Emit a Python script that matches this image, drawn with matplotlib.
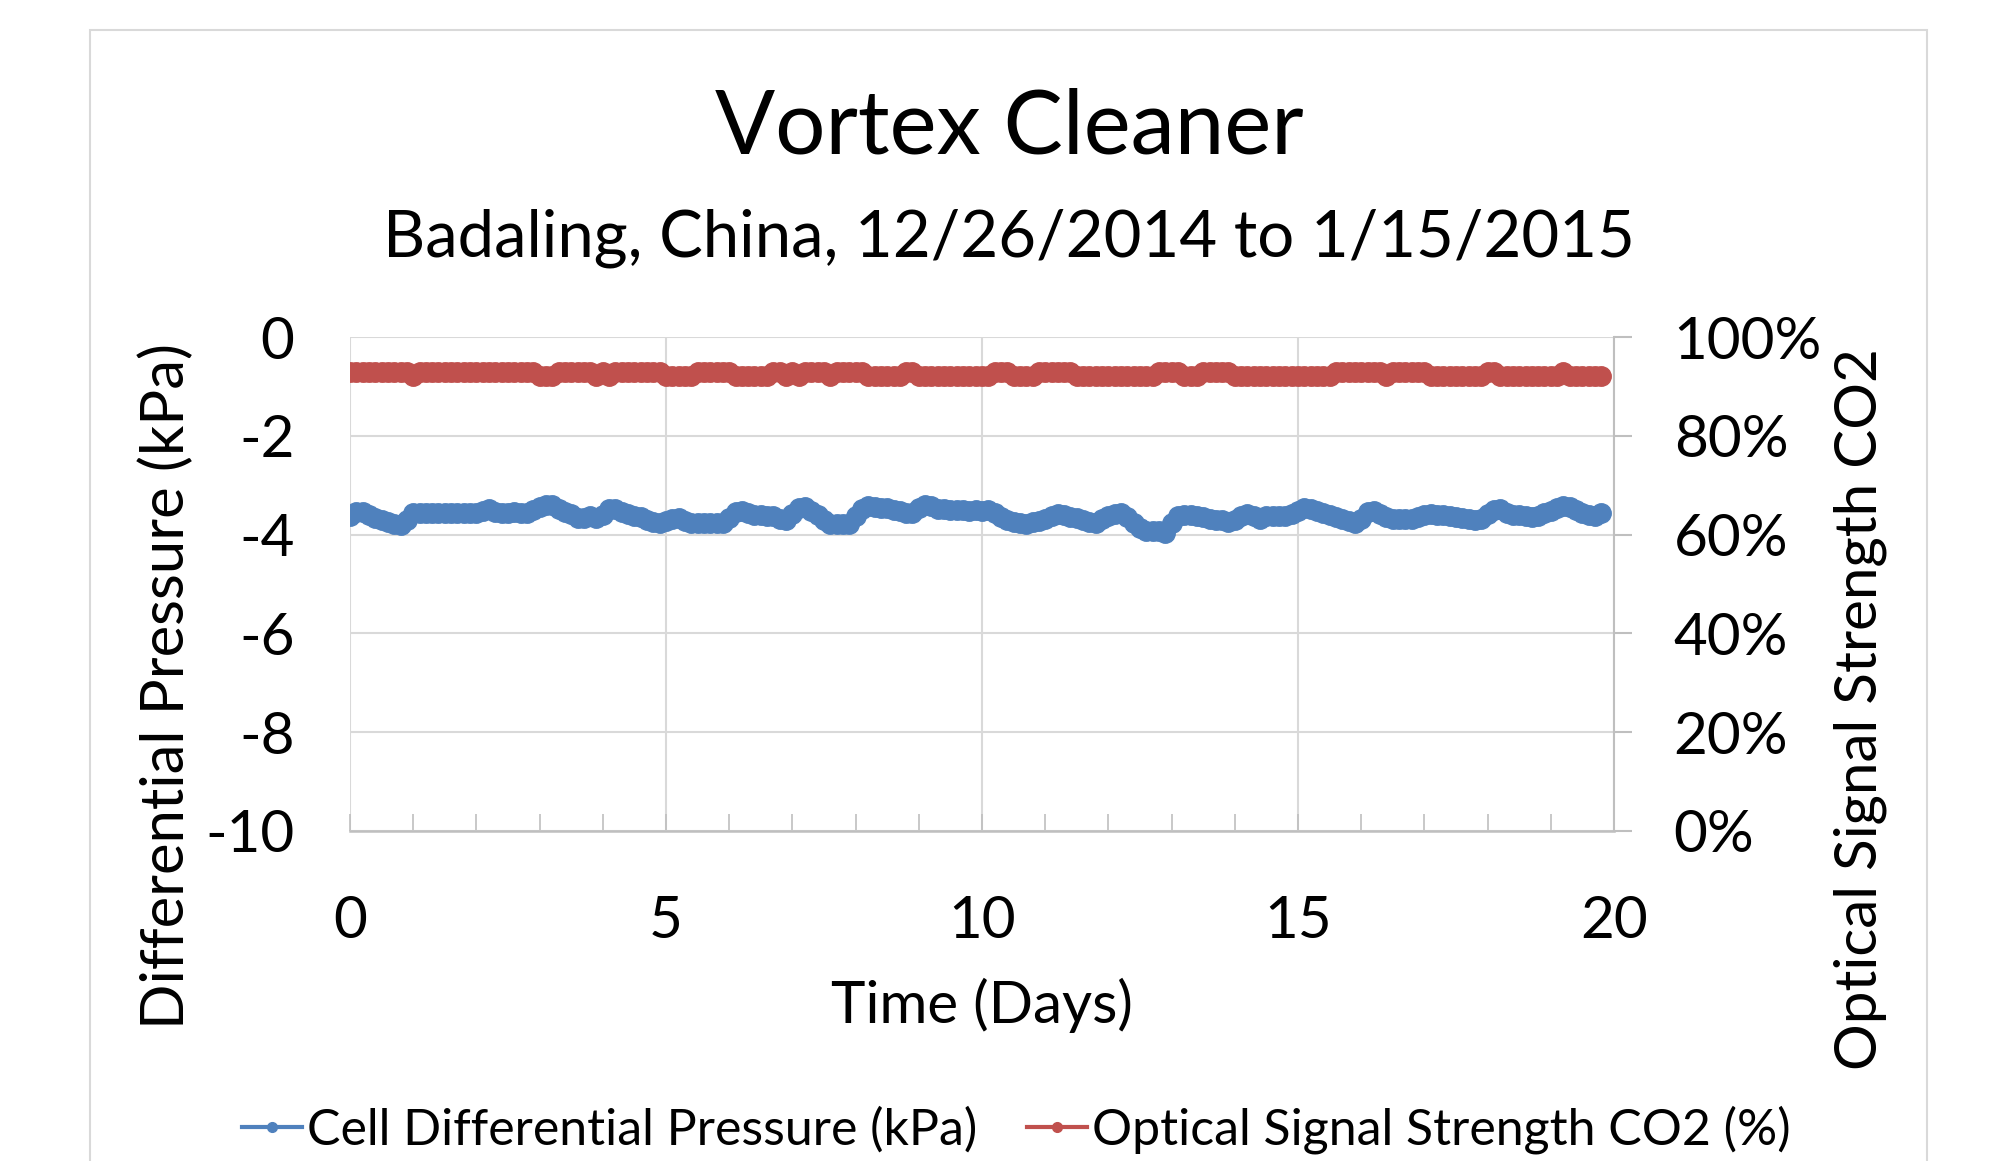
import numpy as np
import matplotlib
matplotlib.use("Agg")
import matplotlib.pyplot as plt
from matplotlib.lines import Line2D
from matplotlib.patches import Rectangle
from matplotlib.ticker import MultipleLocator, FuncFormatter

plt.rcParams["font.family"] = ["Lato", "DejaVu Sans"]
plt.rcParams["axes.unicode_minus"] = False

BLUE = "#4F81BD"
RED = "#C0504D"
GRID = "#D9D9D9"
AXIS = "#BFBFBF"

title = "Vortex Cleaner"
subtitle = "Badaling, China, 12/26/2014 to 1/15/2015"

# samples every 0.1 day
days = np.round(np.arange(0, 19.81, 0.1), 1)

pressure = [
    -3.62, -3.55, -3.54, -3.61, -3.66, -3.71, -3.74, -3.78, -3.81, -3.70,
    -3.57, -3.56, -3.57, -3.57, -3.57, -3.57, -3.57, -3.57, -3.57, -3.57,
    -3.57, -3.52, -3.49, -3.55, -3.57, -3.57, -3.55, -3.57, -3.57, -3.50,
    -3.45, -3.40, -3.40, -3.49, -3.54, -3.58, -3.66, -3.67, -3.62, -3.67,
    -3.60, -3.48, -3.49, -3.55, -3.59, -3.62, -3.64, -3.70, -3.74, -3.76,
    -3.73, -3.68, -3.67, -3.72, -3.76, -3.76, -3.76, -3.76, -3.76, -3.76,
    -3.66, -3.55, -3.52, -3.57, -3.60, -3.61, -3.62, -3.62, -3.68, -3.70,
    -3.58, -3.47, -3.45, -3.52, -3.60, -3.70, -3.79, -3.79, -3.79, -3.78,
    -3.62, -3.48, -3.42, -3.45, -3.47, -3.47, -3.50, -3.52, -3.57, -3.56,
    -3.47, -3.40, -3.43, -3.48, -3.49, -3.50, -3.50, -3.51, -3.52, -3.50,
    -3.52, -3.51, -3.56, -3.64, -3.71, -3.74, -3.77, -3.78, -3.75, -3.72,
    -3.68, -3.62, -3.58, -3.61, -3.64, -3.66, -3.70, -3.75, -3.76, -3.68,
    -3.62, -3.58, -3.56, -3.65, -3.76, -3.86, -3.92, -3.92, -3.93, -3.97,
    -3.76, -3.63, -3.60, -3.61, -3.63, -3.65, -3.68, -3.71, -3.71, -3.75,
    -3.70, -3.62, -3.59, -3.62, -3.68, -3.63, -3.62, -3.62, -3.62, -3.58,
    -3.52, -3.47, -3.49, -3.52, -3.57, -3.60, -3.64, -3.69, -3.72, -3.76,
    -3.68, -3.54, -3.52, -3.58, -3.64, -3.68, -3.69, -3.69, -3.68, -3.64,
    -3.61, -3.59, -3.60, -3.61, -3.62, -3.64, -3.66, -3.68, -3.71, -3.68,
    -3.58, -3.51, -3.49, -3.56, -3.60, -3.61, -3.63, -3.64, -3.62, -3.57,
    -3.52, -3.46, -3.42, -3.44, -3.50, -3.56, -3.60, -3.62, -3.56,
]

signal = [
    92.9, 92.9, 92.9, 92.9, 92.9, 92.9, 92.9, 92.9, 92.9, 92.9,
    92.1, 92.9, 92.9, 92.9, 92.9, 92.9, 92.9, 92.9, 92.9, 92.9,
    92.9, 92.9, 92.9, 92.9, 92.9, 92.9, 92.9, 92.9, 92.9, 92.9,
    92.1, 92.1, 92.1, 92.9, 92.9, 92.9, 92.9, 92.9, 92.9, 92.1,
    92.9, 92.1, 92.9, 92.9, 92.9, 92.9, 92.9, 92.9, 92.9, 92.9,
    92.1, 92.1, 92.1, 92.1, 92.1, 92.9, 92.9, 92.9, 92.9, 92.9,
    92.9, 92.1, 92.1, 92.1, 92.1, 92.1, 92.1, 92.9, 92.9, 92.1,
    92.9, 92.1, 92.9, 92.9, 92.9, 92.9, 92.1, 92.9, 92.9, 92.9,
    92.9, 92.9, 92.1, 92.1, 92.1, 92.1, 92.1, 92.1, 92.9, 92.9,
    92.1, 92.1, 92.1, 92.1, 92.1, 92.1, 92.1, 92.1, 92.1, 92.1,
    92.1, 92.1, 92.9, 92.9, 92.9, 92.1, 92.1, 92.1, 92.1, 92.9,
    92.9, 92.9, 92.9, 92.9, 92.9, 92.1, 92.1, 92.1, 92.1, 92.1,
    92.1, 92.1, 92.1, 92.1, 92.1, 92.1, 92.1, 92.1, 92.9, 92.9,
    92.9, 92.9, 92.1, 92.1, 92.1, 92.9, 92.9, 92.9, 92.9, 92.9,
    92.1, 92.1, 92.1, 92.1, 92.1, 92.1, 92.1, 92.1, 92.1, 92.1,
    92.1, 92.1, 92.1, 92.1, 92.1, 92.1, 92.9, 92.9, 92.9, 92.9,
    92.9, 92.9, 92.9, 92.9, 92.1, 92.9, 92.9, 92.9, 92.9, 92.9,
    92.9, 92.1, 92.1, 92.1, 92.1, 92.1, 92.1, 92.1, 92.1, 92.1,
    92.9, 92.9, 92.1, 92.1, 92.1, 92.1, 92.1, 92.1, 92.1, 92.1,
    92.1, 92.1, 92.9, 92.1, 92.1, 92.1, 92.1, 92.1, 92.1,
]

W, H = 2004, 1161
fig = plt.figure(figsize=(W / 100, H / 100), dpi=100)

# chart-area border
fig.patches.append(Rectangle((90 / W, -0.05), (1927 - 90) / W, 1.05 - 30 / H,
                             transform=fig.transFigure, fill=False,
                             edgecolor=GRID, lw=1.5))

ax = fig.add_axes([350 / W, 1 - 831 / H, 1264 / W, 494 / H])
ax2 = ax.twinx()

ax.plot(days, pressure, color=BLUE, lw=4, marker="o", ms=14, mec=BLUE, mew=1)
ax2.plot(days, signal, color=RED, lw=4, marker="o", ms=14, mec=RED, mew=1)

ax.set_xlim(0, 20)
ax.set_ylim(-10, 0)
ax2.set_ylim(0, 100)

ax.xaxis.set_major_locator(MultipleLocator(5))
ax.xaxis.set_minor_locator(MultipleLocator(1))
ax.yaxis.set_major_locator(MultipleLocator(2))
ax2.yaxis.set_major_locator(MultipleLocator(20))
ax2.yaxis.set_major_formatter(FuncFormatter(lambda v, p: f"{v:.0f}%"))

ax.grid(True, which="major", color=GRID, lw=1.5)
ax.set_axisbelow(True)
for s in ax.spines.values():
    s.set_visible(False)
for s in ax2.spines.values():
    s.set_visible(False)
ax2.spines["right"].set_visible(True)
ax2.spines["right"].set_color(AXIS)
ax2.spines["right"].set_linewidth(1.5)
ax.spines["bottom"].set_visible(True)
ax.spines["bottom"].set_color(AXIS)
ax.spines["bottom"].set_linewidth(1.8)

ax.tick_params(axis="x", which="both", direction="in", length=12, width=1.2,
               color=AXIS, labelsize=42, pad=46)
ax.tick_params(axis="y", length=0, labelsize=42, pad=40)
ax2.tick_params(axis="y", direction="out", length=13, width=1.5, color=AXIS,
                labelsize=42, pad=30)

ax.set_xlabel("Time (Days)", fontsize=42)
ax.set_ylabel("Differential Pressure (kPa)", fontsize=43)
ax2.set_ylabel("Optical Signal Strength CO2", fontsize=42)
ax.xaxis.set_label_coords(0.5, -0.354)
ax.yaxis.set_label_coords(-0.1456, 0.294)
ax2.yaxis.set_label_coords(1.1946, 0.247)
for lab in (ax.xaxis.label, ax.yaxis.label, ax2.yaxis.label):
    lab.set_va("center")
    lab.set_ha("center")

fig.text(1009 / W, 1 - 129 / H, title, ha="center", va="center", fontsize=64)
fig.text(1009 / W, 1 - 238 / H, subtitle, ha="center", va="center", fontsize=47)

handles = [
    Line2D([], [], color=BLUE, lw=3, marker="o", ms=7),
    Line2D([], [], color=RED, lw=3, marker="o", ms=7),
]
fig.legend(handles, ["Cell Differential Pressure (kPa)", "Optical Signal Strength CO2 (%)"],
           loc="center", bbox_to_anchor=(1016 / W, 1 - 1130 / H), ncol=2,
           frameon=False, fontsize=36, handlelength=1.2, handletextpad=0.1,
           columnspacing=1.0, borderaxespad=0)

fig.savefig("out.png", dpi=100)
